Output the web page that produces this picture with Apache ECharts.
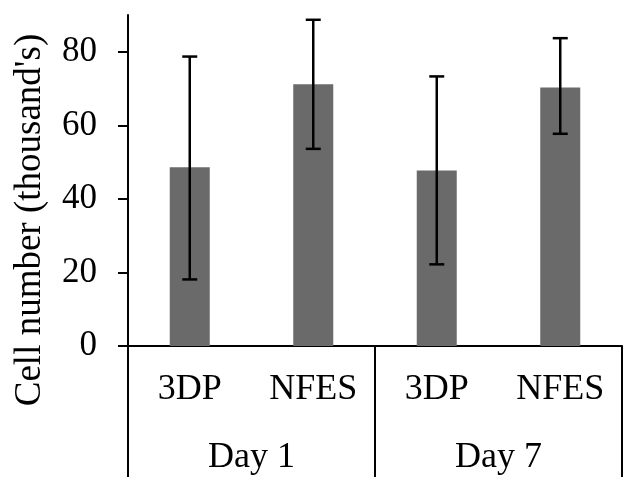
<!DOCTYPE html>
<html>
<head>
<meta charset="utf-8">
<script src="https://cdn.jsdelivr.net/npm/echarts@6/dist/echarts.min.js"></script>
<style>html,body{margin:0;padding:0;background:#fff}#c{width:623px;height:477px}</style>
</head>
<body>
<div id="c"></div>
<script>
const categories = ['3DP', 'NFES', '3DP', 'NFES'];
const groups = ['Day 1', 'Day 7'];
const means = [48.6, 71.2, 47.7, 70.3];
const errLow = [18.1, 53.6, 22.2, 57.7];
const errHigh = [78.7, 88.7, 73.3, 83.7];
const yTicks = [0, 20, 40, 60, 80];

const FONT = 'Liberation Serif';
const chart = echarts.init(document.getElementById('c'), null, {renderer: 'canvas'});
const errData = categories.map((c, i) => [i, errLow[i], errHigh[i]]);

chart.setOption({
  animation: false,
  grid: {left: 128, right: 1, top: 15, bottom: 131, containLabel: false},
  xAxis: [
    {
      type: 'category', data: categories, position: 'bottom',
      axisLine: {show: true, lineStyle: {color: '#000', width: 2}},
      axisTick: {show: false},
      axisLabel: {color: '#000', fontFamily: FONT, fontSize: 36, margin: 26}
    },
    {
      type: 'category', data: groups, position: 'bottom',
      axisLine: {show: false},
      axisTick: {show: true, length: 131, lineStyle: {color: '#000', width: 2}},
      axisLabel: {color: '#000', fontFamily: FONT, fontSize: 36, margin: 94}
    }
  ],
  yAxis: {
    type: 'value', min: 0, max: 90, interval: 20,
    axisLine: {show: true, lineStyle: {color: '#000', width: 2}},
    axisTick: {show: true, length: 10, customValues: yTicks, lineStyle: {color: '#000', width: 2}},
    axisLabel: {color: '#000', fontFamily: FONT, fontSize: 35, margin: 31, customValues: yTicks},
    splitLine: {show: false}
  },
  graphic: [{
    type: 'text', x: 30, y: 220, rotation: Math.PI / 2,
    style: {text: "Cell number (thousand's)", fontFamily: FONT, fontSize: 37, fill: '#000',
            align: 'center', verticalAlign: 'middle'}
  }],
  series: [
    {
      type: 'bar', data: means, barWidth: 40, xAxisIndex: 0,
      itemStyle: {color: '#6a6a6a'}
    },
    {
      type: 'custom', xAxisIndex: 0, data: errData, z: 10,
      renderItem: function (params, api) {
        const x = api.value(0);
        const lo = api.coord([x, api.value(1)]);
        const hi = api.coord([x, api.value(2)]);
        const hw = 7.5;
        const st = {stroke: '#000', lineWidth: 2.5};
        return {type: 'group', children: [
          {type: 'line', shape: {x1: lo[0], y1: lo[1], x2: hi[0], y2: hi[1]}, style: st},
          {type: 'line', shape: {x1: hi[0] - hw, y1: hi[1], x2: hi[0] + hw, y2: hi[1]}, style: st},
          {type: 'line', shape: {x1: lo[0] - hw, y1: lo[1], x2: lo[0] + hw, y2: lo[1]}, style: st}
        ]};
      }
    }
  ]
});
</script>
</body>
</html>
